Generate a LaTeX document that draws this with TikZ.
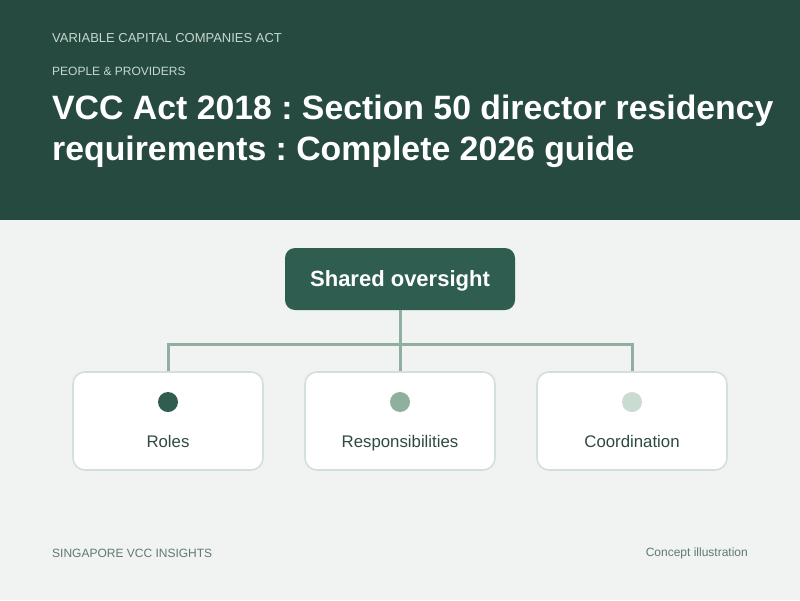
\documentclass[tikz,border=0pt]{standalone}
\usepackage{fontspec}
\setmainfont{Liberation Sans}
\frenchspacing
\definecolor{hdr}{HTML}{264A40}
\definecolor{bg}{HTML}{F0F3F2}
\definecolor{dk}{HTML}{2F5E50}
\definecolor{md}{HTML}{8FAF9F}
\definecolor{lt}{HTML}{CADBD2}
\definecolor{bd}{HTML}{D3DFD9}
\definecolor{sub}{HTML}{C5D8CF}
\definecolor{lbl}{HTML}{2E4A41}
\definecolor{foot}{HTML}{5F7A6F}
\tikzset{
  topbox/.style={draw=none, fill=dk, rounded corners=10pt, minimum width=230pt, minimum height=62pt, text=white, text depth=0pt, font=\fontsize{22}{26}\selectfont\bfseries},
  childbox/.style={draw=bd, line width=1.6pt, fill=white, rounded corners=12pt, minimum width=190pt, minimum height=98pt},
  dot/.style={circle, minimum size=20pt, inner sep=0pt},
  lbltext/.style={text=lbl, text depth=0pt, font=\fontsize{16.8}{20}\selectfont},
  conn/.style={draw=md, line width=3pt},
  small/.style={text=sub, inner sep=0pt},
  ftext/.style={text=foot, font=\fontsize{12}{14}\selectfont, inner sep=0pt},
  ttext/.style={anchor=base west, text=white, font=\fontsize{33.8}{42}\selectfont\bfseries, inner sep=0pt},
}
\begin{document}
\begin{tikzpicture}[x=1pt,y=-1pt]
\useasboundingbox (0,0) rectangle (800,600);
\fill[bg] (0,0) rectangle (800,600);
\fill[hdr] (0,0) rectangle (800,220);
\node[small, anchor=west, font=\fontsize{13}{15}\selectfont] (k1) at (52,38.5) {VARIABLE CAPITAL COMPANIES ACT};
\node[small, anchor=west, font=\fontsize{12}{14}\selectfont] (k2) at (52,71.5) {PEOPLE \& PROVIDERS};
\node[ttext] (t1) at (52,119) {VCC Act 2018 : Section 50 director residency};
\node[ttext] (t2) at (52,160) {requirements : Complete 2026 guide};

\node[topbox] (top) at (400,279) {Shared oversight};
\node[childbox] (c1) at (168,421) {};
\node[childbox] (c2) at (400,421) {};
\node[childbox] (c3) at (632,421) {};
\coordinate (j) at (400,344);
\draw[conn] (top.south) -- (c2.north);
\draw[conn] (c1.north) |- (j) -| (c3.north);
\node[dot, fill=dk] (d1) at (168,402) {};
\node[dot, fill=md] (d2) at (400,402) {};
\node[dot, fill=lt] (d3) at (632,402) {};
\node[lbltext] (l1) at (168,441) {Roles};
\node[lbltext] (l2) at (400,441) {Responsibilities};
\node[lbltext] (l3) at (632,441) {Coordination};

\node[ftext, anchor=west] (f1) at (52,553.5) {SINGAPORE VCC INSIGHTS};
\node[ftext, anchor=east] (f2) at (748,553.5) {Concept illustration};
\end{tikzpicture}
\end{document}
